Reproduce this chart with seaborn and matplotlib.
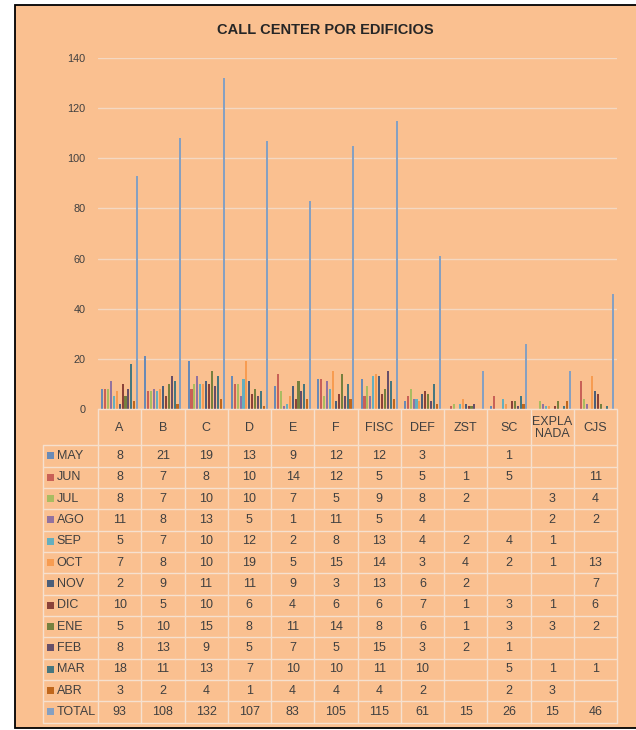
import numpy as np
import pandas as pd
import matplotlib
matplotlib.use("Agg")
import matplotlib.pyplot as plt
import matplotlib.colors as mcolors
from matplotlib.patches import Rectangle
import seaborn as sns

# ---------------- data ----------------
categories = ["A", "B", "C", "D", "E", "F", "FISC", "DEF", "ZST", "SC", "EXPLA\nNADA", "CJS"]
months = ["MAY", "JUN", "JUL", "AGO", "SEP", "OCT", "NOV", "DIC", "ENE", "FEB", "MAR", "ABR", "TOTAL"]
N = None
may = [8, 21, 19, 13, 9, 12, 12, 3, N, 1, N, N]
jun = [8, 7, 8, 10, 14, 12, 5, 5, 1, 5, N, 11]
jul = [8, 7, 10, 10, 7, 5, 9, 8, 2, N, 3, 4]
ago = [11, 8, 13, 5, 1, 11, 5, 4, N, N, 2, 2]
sep = [5, 7, 10, 12, 2, 8, 13, 4, 2, 4, 1, N]
oct_ = [7, 8, 10, 19, 5, 15, 14, 3, 4, 2, 1, 13]
nov = [2, 9, 11, 11, 9, 3, 13, 6, 2, N, N, 7]
dic = [10, 5, 10, 6, 4, 6, 6, 7, 1, 3, 1, 6]
ene = [5, 10, 15, 8, 11, 14, 8, 6, 1, 3, 3, 2]
feb = [8, 13, 9, 5, 7, 5, 15, 3, 2, 1, N, N]
mar = [18, 11, 13, 7, 10, 10, 11, 10, N, 5, 1, 1]
abr = [3, 2, 4, 1, 4, 4, 4, 2, N, 2, 3, N]
total = [93, 108, 132, 107, 83, 105, 115, 61, 15, 26, 15, 46]
series = [may, jun, jul, ago, sep, oct_, nov, dic, ene, feb, mar, abr, total]
yticks = [0, 20, 40, 60, 80, 100, 120, 140]
title = "CALL CENTER POR EDIFICIOS"

base_colors = ["#4F81BD", "#C0504D", "#9BBB59", "#8064A2", "#4BACC6", "#F79646",
               "#2C4D75", "#772C2A", "#5F7530", "#4D3B62", "#276A7C", "#B65708", "#729ACA"]

PEACH = "#FAC090"
GRID = "#F4D8C2"
TEXT = "#404040"


def blend(c, bg, a):
    c1 = np.array(mcolors.to_rgb(c))
    c2 = np.array(mcolors.to_rgb(bg))
    return tuple(a * c1 + (1 - a) * c2)


bar_colors = [blend(c, PEACH, 0.85) for c in base_colors]

# ---------------- figure ----------------
W, H = 636, 730
sns.set_theme(style="white")
plt.rcParams["font.family"] = ["Liberation Sans Narrow", "Liberation Sans", "DejaVu Sans"]

fig = plt.figure(figsize=(W / 100, H / 100), dpi=100, facecolor="white")


def fx(px):
    return px / W


def fy(py):
    return 1 - py / H


bg = Rectangle((fx(15), fy(728)), 1.0, (728 - 5) / H, transform=fig.transFigure,
               facecolor=PEACH, edgecolor="black", lw=1.3, zorder=-10)
fig.patches.append(bg)

fig.text(fx(325), fy(30), title, ha="center", va="center", fontsize=10.5,
         fontweight="bold", color="#262626", family=["Liberation Sans", "DejaVu Sans"])

# ---- bar axes ----
X0, X1, Y0, Y1 = 98, 617, 409, 58
ax = fig.add_axes([fx(X0), fy(Y0), (X1 - X0) / W, (Y0 - Y1) / H])
ax.patch.set_alpha(0)

rows = [(c, m, v) for m, s in zip(months, series) for c, v in zip(categories, s) if v is not None]
df = pd.DataFrame(rows, columns=["edificio", "mes", "valor"])
sns.barplot(data=df, x="edificio", y="valor", hue="mes", order=categories, hue_order=months,
            palette=bar_colors, saturation=1, width=0.88, gap=0.3, errorbar=None,
            legend=False, ax=ax, zorder=3, linewidth=0, edgecolor="none")

ax.set_xlim(-0.5, len(categories) - 0.5)
ax.set_ylim(0, 140)
ax.set_yticks(yticks)
ax.set_yticklabels([str(t) for t in yticks], family=["Liberation Sans", "DejaVu Sans"])
ax.tick_params(axis="y", length=0, pad=9, labelsize=7.8, labelcolor=TEXT)
ax.set_xticks([])
ax.set_xlabel("")
ax.set_ylabel("")
for sp in ax.spines.values():
    sp.set_visible(False)
ax.yaxis.grid(True, color=GRID, lw=1.0, zorder=0)
ax.set_axisbelow(True)

# ---- data table axes ----
unit = (X1 - X0) / len(categories)
TL = 43
TB = 722.6
tab = fig.add_axes([fx(TL), fy(TB), (X1 - TL) / W, (TB - Y0) / H])
tab.patch.set_alpha(0)
xl = -0.5 - (X0 - TL) / unit
tab.set_xlim(xl, len(categories) - 0.5)
tab.set_ylim(TB, Y0)
tab.axis("off")

row_h = 21.33
row_top = 445.3
lc = "#F6E0CE"
# horizontal lines
tab.plot([-0.5, len(categories) - 0.5], [Y0, Y0], color=lc, lw=1.0, clip_on=False)
for i in range(len(months) + 1):
    yy = row_top + i * row_h
    tab.plot([xl, len(categories) - 0.5], [yy, yy], color=lc, lw=1.0, clip_on=False)
# vertical lines
for k in range(len(categories) + 1):
    xx = -0.5 + k
    tab.plot([xx, xx], [Y0, TB], color=lc, lw=1.0, clip_on=False)
tab.plot([xl, xl], [row_top, TB], color=lc, lw=1.0, clip_on=False)

# category labels
for i, c in enumerate(categories):
    tab.text(i, 428, c, ha="center", va="center", fontsize=9, color=TEXT, linespacing=1.05)

# rows
for r, (m, s, col) in enumerate(zip(months, series, base_colors)):
    yc = row_top + r * row_h + row_h / 2
    sq = 7.0
    tab.add_patch(Rectangle(((47 - X0) / unit - 0.5, yc - sq / 2), sq / unit, sq,
                            facecolor=blend(col, PEACH, 0.85), edgecolor="none", clip_on=False))
    tab.text((56.5 - X0) / unit - 0.5, yc, m, ha="left", va="center", fontsize=9, color=TEXT)
    for i, v in enumerate(s):
        if v is not None:
            tab.text(i, yc, str(v), ha="center", va="center", fontsize=9, color=TEXT)

fig.savefig("out.png", dpi=100, facecolor=fig.get_facecolor())
